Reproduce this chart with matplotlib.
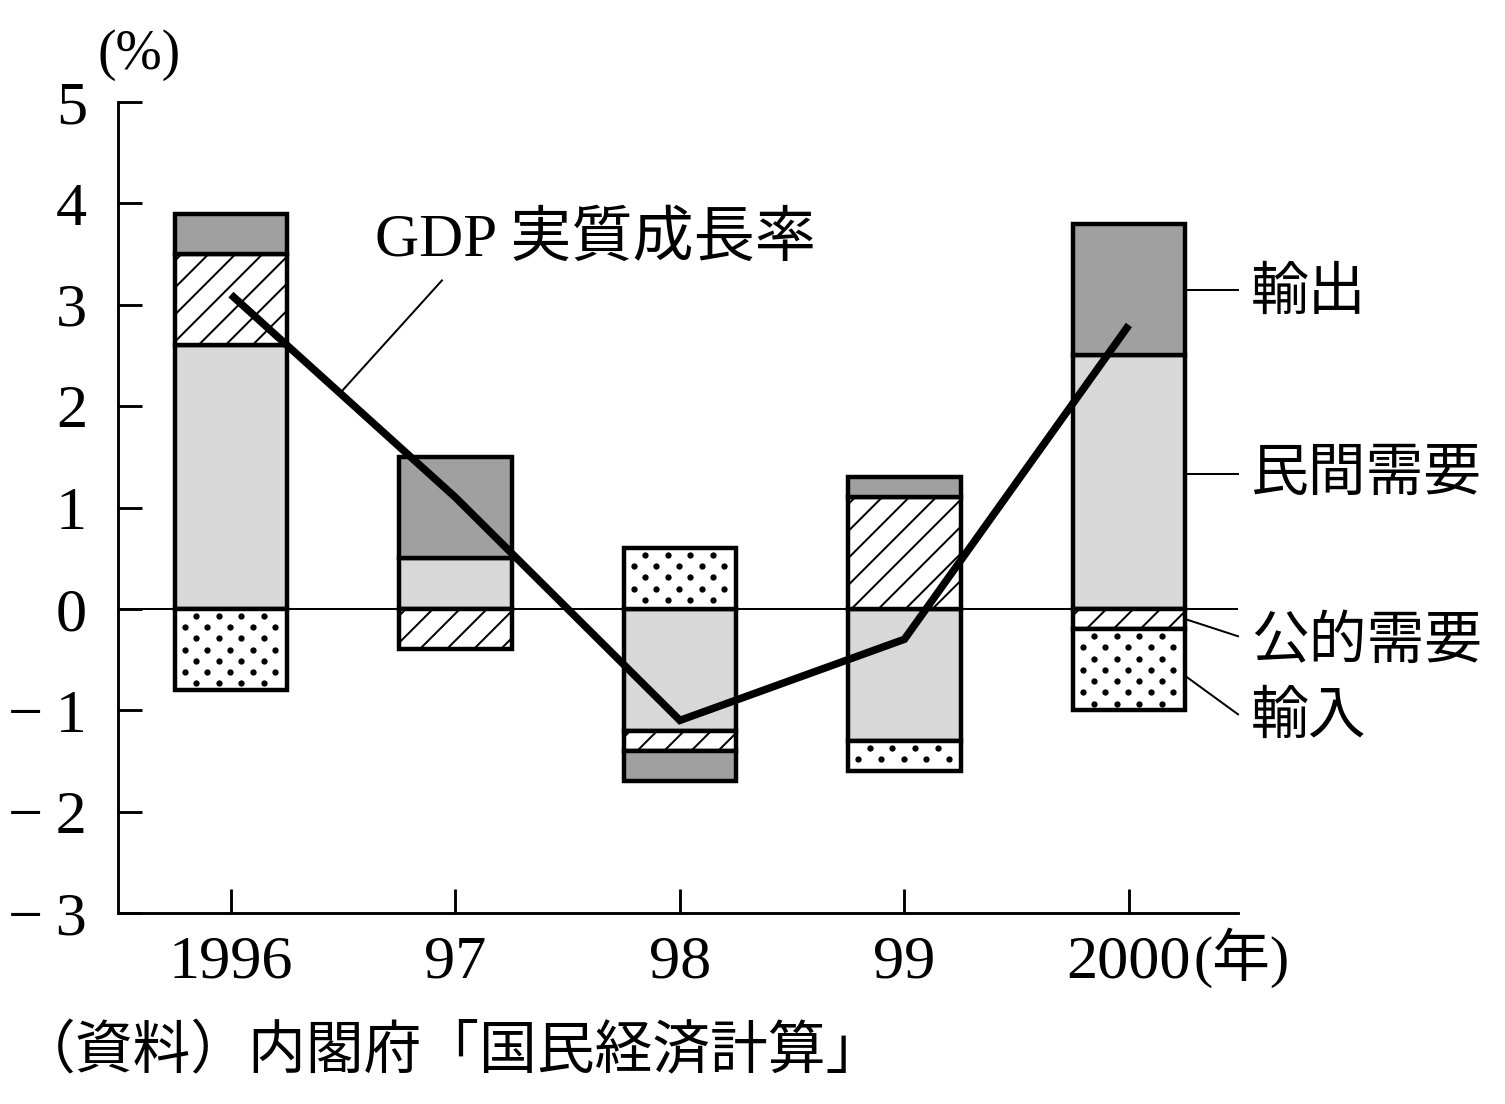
import matplotlib
matplotlib.use('Agg')
import matplotlib.pyplot as plt
from matplotlib.collections import LineCollection
import numpy as np

# ---------------- data ----------------
years = ['1996', '97', '98', '99', '2000']
private_demand = [2.6, 0.5, -1.2, -1.3, 2.5]   # 民間需要
public_demand = [0.9, -0.4, -0.2, 1.1, -0.2]   # 公的需要
exports = [0.4, 1.0, -0.3, 0.2, 1.3]           # 輸出
imports = [-0.8, 0.0, 0.6, -0.3, -0.8]         # 輸入
gdp_growth = [3.1, 1.1, -1.1, -0.3, 2.8]       # GDP 実質成長率
yticks = [-3, -2, -1, 0, 1, 2, 3, 4, 5]

# ---------------- setup ----------------
DPI = 160
W, H = 1505, 1104
plt.rcParams['font.family'] = ['Liberation Serif', 'Noto Sans CJK JP']
CJK = ['Noto Sans CJK JP', 'DejaVu Sans']

fig = plt.figure(figsize=(W / DPI, H / DPI), dpi=DPI)


def fx(px):
    return px / W


def fy(py):
    return 1 - py / H


ax = fig.add_axes([fx(118), fy(913), fx(1238) - fx(118), fy(102) - fy(913)])
x = np.arange(len(years))
ax.set_xlim(-0.503, 4.486)
ax.set_ylim(-3, 5)

BAR_W = 0.5
EDGE_LW = 2.0


def rect_bounds(rect):
    x0, y0 = rect.get_x(), rect.get_y()
    w, h = rect.get_width(), rect.get_height()
    return x0, x0 + w, min(y0, y0 + h), max(y0, y0 + h)


def add_dots(ax, rect):
    xl, xr, ylo, yhi = rect_bounds(rect)
    dx, dy = 0.101, 0.111
    rows = np.arange(yhi - 0.068, ylo + 0.03, -dy)
    xs_all, ys_all = [], []
    for i, yy in enumerate(rows):
        start = xl + 0.0445 + (dx / 2 if i % 2 == 0 else 0.0)
        cols = np.arange(start, xr - 0.02, dx)
        xs_all.extend(cols)
        ys_all.extend([yy] * len(cols))
    sc = ax.scatter(xs_all, ys_all, s=8, c='black', linewidths=0, zorder=2.5)
    sc.set_clip_path(rect)


def add_hatch(ax, rect):
    # 45-degree (on screen) diagonal lines, clipped to the bar
    xl, xr, ylo, yhi = rect_bounds(rect)
    bbox = ax.get_position()
    px_per_x = bbox.width * W / (ax.get_xlim()[1] - ax.get_xlim()[0])
    px_per_y = bbox.height * H / (ax.get_ylim()[1] - ax.get_ylim()[0])
    k = px_per_x / px_per_y          # data-y per data-x for a 45 deg line
    step = 27.0 / px_per_x           # horizontal spacing of the lines
    span = (yhi - ylo) / k
    starts = np.arange(xl - span - step, xr + step, step) + 0.03
    segs = [[(c, ylo), (c + span, yhi)] for c in starts]
    lc = LineCollection(segs, colors='black', linewidths=0.9, zorder=2.5)
    ax.add_collection(lc, autolim=False)
    lc.set_clip_path(rect)


series = [
    ('民間需要', private_demand, dict(facecolor='#d8d8d8')),
    ('公的需要', public_demand, dict(facecolor='white')),
    ('輸出', exports, dict(facecolor='#a0a0a0')),
    ('輸入', imports, dict(facecolor='white')),
]

pos_base = np.zeros(len(years))
neg_base = np.zeros(len(years))
for name, vals, style in series:
    vals = np.array(vals, dtype=float)
    bottoms = np.where(vals >= 0, pos_base, neg_base)
    mask = vals != 0
    bars = ax.bar(x[mask], vals[mask], width=BAR_W, bottom=bottoms[mask],
                  edgecolor='black', linewidth=EDGE_LW, zorder=2, **style)
    if name == '輸入':
        for rect in bars:
            add_dots(ax, rect)
    if name == '公的需要':
        for rect in bars:
            add_hatch(ax, rect)
    pos_base += np.where(vals > 0, vals, 0)
    neg_base += np.where(vals < 0, vals, 0)

ax.set_xlim(-0.503, 4.486)
ax.set_ylim(-3, 5)

# zero line
ax.axhline(0, color='black', lw=0.9, zorder=1.5)

# GDP line
ax.plot(x, gdp_growth, color='black', lw=3.4, zorder=4,
        solid_capstyle='butt', solid_joinstyle='miter')

# spines & ticks
for s in ['top', 'right']:
    ax.spines[s].set_visible(False)
for s in ['left', 'bottom']:
    ax.spines[s].set_linewidth(1.3)

ax.set_xticks(x)
ax.set_xticklabels(years)
ax.set_yticks(yticks)
ax.set_yticklabels([('\u2212\u2009%d' % abs(v)) if v < 0 else str(v) for v in yticks])
ax.tick_params(axis='both', direction='in', length=11, width=1.3, labelsize=28)
ax.tick_params(axis='y', pad=14)
ax.tick_params(axis='x', pad=10)

# GDP label + leader
ax.text(0.641, 3.63, 'GDP 実質成長率', fontsize=27.5, ha='left', va='center')
lead_x = 0.486
ax.plot([0.94, lead_x], [3.24, np.interp(lead_x, x, gdp_growth)],
        color='black', lw=0.9, zorder=3)

# right side labels
label_x = 4.545
line_end = 4.486
bar_edge = 4 + BAR_W / 2
right_labels = [
    ('輸出', 3.15, 3.15, 3.12),
    ('民間需要', 1.33, 1.33, 1.33),
    ('公的需要', -0.10, -0.27, -0.32),
    ('輸入', -0.66, -1.04, -1.06),
]
for text, y_start, y_end, y_text in right_labels:
    ax.plot([bar_edge, line_end], [y_start, y_end], color='black', lw=0.9,
            clip_on=False, zorder=3)
    ax.text(label_x, y_text, text, fontsize=26, family=CJK, ha='left',
            va='center', clip_on=False)

# unit labels
fig.text(fx(139), fy(55), '(%)', fontsize=25, ha='center', va='center')
fig.text(fx(1194), fy(958), '(年)', fontsize=26, ha='left', va='center')

# source
fig.text(fx(18), fy(1052), '（資料）内閣府「国民経済計算」', fontsize=26,
         family=CJK, ha='left', va='center')

fig.savefig('out.png', dpi=DPI)
